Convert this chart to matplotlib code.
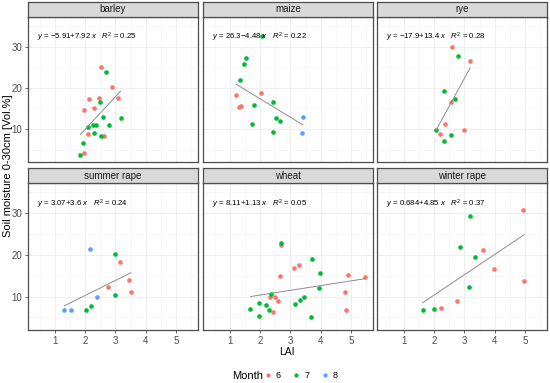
import matplotlib
matplotlib.use("Agg")
import matplotlib.pyplot as plt
from matplotlib.lines import Line2D
import numpy as np

plt.rcParams['font.family'] = ['Liberation Sans', 'DejaVu Sans']
plt.rcParams['mathtext.fontset'] = 'custom'
plt.rcParams['mathtext.rm'] = 'Liberation Sans'
plt.rcParams['mathtext.it'] = 'Liberation Sans:italic'

# 作物 / 月份 / 颜色
crops = ["barley", "maize", "rye", "summer rape", "wheat", "winter rape"]
months = [6, 7, 8]
month_colors = {6: "#F8766D", 7: "#00BA38", 8: "#619CFF"}

# 每个作物: LAI, 土壤水分, 月份
barley_lai = [2.51, 2.89, 2.13, 2.47, 3.08, 2.30, 1.97, 2.08, 2.61, 1.97,
              2.69, 2.49, 2.58, 3.17, 2.78, 2.25, 2.37, 2.08, 2.30, 2.51, 1.93, 1.84]
barley_sm = [25.0, 20.1, 17.4, 17.6, 17.6, 15.0, 14.6, 8.8, 8.3, 4.1,
             23.9, 16.5, 13.0, 12.7, 11.1, 11.1, 11.0, 10.4, 9.0, 8.3, 6.7, 3.6]
barley_month = [6] * 10 + [7] * 12

maize_lai = [2.04, 1.21, 1.35, 1.29,
             2.07, 1.54, 1.47, 1.32, 2.41, 1.78, 2.51, 2.67, 1.74, 2.41,
             3.41, 3.39]
maize_sm = [18.7, 18.2, 15.5, 15.3,
            32.6, 27.3, 25.8, 21.9, 16.5, 15.8, 12.7, 11.9, 11.3, 9.4,
            13.0, 9.1]
maize_month = [6] * 4 + [7] * 10 + [8] * 2

rye_lai = [2.60, 3.19, 2.54, 2.35, 3.00, 2.19,
           2.78, 2.34, 2.70, 2.05, 2.54, 2.31]
rye_sm = [29.9, 26.5, 16.5, 11.3, 9.8, 8.7,
          27.7, 19.2, 17.3, 9.8, 8.6, 7.0]
rye_month = [6] * 6 + [7] * 6

srape_lai = [3.15, 3.45, 2.76, 3.51,
             3.00, 2.99, 2.19, 2.04,
             2.16, 2.40, 1.31, 1.53]
srape_sm = [18.2, 14.0, 12.4, 11.0,
            20.2, 10.5, 7.7, 6.9,
            21.3, 9.8, 6.9, 6.7]
srape_month = [6] * 4 + [7] * 4 + [8] * 4

wheat_lai = [2.69, 3.27, 3.12, 2.66, 4.92, 5.47, 4.81, 2.32, 2.48, 2.58, 4.85, 2.43,
             2.69, 3.71, 3.98, 3.93, 2.36, 3.45, 3.32, 3.14, 1.97, 2.18, 1.68, 2.28, 1.97, 3.69]
wheat_sm = [22.3, 17.5, 16.9, 14.9, 15.1, 14.6, 11.1, 10.0, 10.0, 9.0, 6.7, 6.4,
            22.8, 18.9, 15.6, 12.0, 10.6, 9.8, 9.3, 8.2, 8.5, 8.0, 7.0, 6.9, 5.3, 5.0]
wheat_month = [6] * 12 + [7] * 14

wrape_lai = [4.93, 3.61, 3.99, 4.97, 2.77, 2.21,
             3.18, 2.87, 3.36, 3.14, 1.98, 1.62]
wrape_sm = [30.7, 21.1, 16.6, 13.7, 9.0, 7.3,
            29.4, 21.8, 19.6, 12.3, 7.0, 6.9]
wrape_month = [6] * 6 + [7] * 6

# 回归系数 (来自图中的方程)
intercepts = [-5.91, 26.3, -17.9, 3.07, 8.11, 0.684]
slopes = [7.92, -4.48, 13.4, 3.6, 1.13, 4.85]
r2_values = [0.25, 0.22, 0.28, 0.24, 0.05, 0.37]

crop_data = [(barley_lai, barley_sm, barley_month),
             (maize_lai, maize_sm, maize_month),
             (rye_lai, rye_sm, rye_month),
             (srape_lai, srape_sm, srape_month),
             (wheat_lai, wheat_sm, wheat_month),
             (wrape_lai, wrape_sm, wrape_month)]

W, H = 550, 383
fig = plt.figure(figsize=(W / 100, H / 100), dpi=100)

col_px = [(28, 198), (203, 373), (377, 547)]
row_px = [(17, 162), (183, 330)]
strip_h = 15

for i, crop in enumerate(crops):
    r, c = divmod(i, 3)
    x0, x1 = col_px[c]
    y0, y1 = row_px[r]
    ax = fig.add_axes([x0 / W, 1 - y1 / H, (x1 - x0) / W, (y1 - y0) / H])
    ax.set_xlim(0.11, 5.73)
    ax.set_ylim(2.0, 37.2)
    ax.set_xticks([1, 2, 3, 4, 5])
    ax.set_xticks(np.arange(0.5, 5.8, 1.0), minor=True)
    ax.set_yticks([10, 20, 30])
    ax.set_yticks([5, 15, 25, 35], minor=True)
    ax.grid(True, which='major', color='#EBEBEB', lw=0.6)
    ax.grid(True, which='minor', color='#F2F2F2', lw=0.4)
    ax.set_axisbelow(True)
    for sp in ax.spines.values():
        sp.set_color('#4D4D4D')
        sp.set_linewidth(0.9)
    ax.tick_params(which='minor', length=0)
    ax.tick_params(which='major', length=2.5, width=0.6, color='#4D4D4D',
                   labelsize=7, labelcolor='#4D4D4D', pad=1.5)
    if c != 0:
        ax.tick_params(axis='y', length=0, labelleft=False)
    if r != 1:
        ax.tick_params(axis='x', length=0, labelbottom=False)

    lai, sm, mon = crop_data[i]
    lai = np.array(lai)
    sm = np.array(sm)
    mon = np.array(mon)
    for m in months:
        sel = mon == m
        if sel.any():
            ax.scatter(lai[sel], sm[sel], s=11, color=month_colors[m],
                       linewidths=0, zorder=3)

    xs = np.array([lai.min(), lai.max()])
    ax.plot(xs, intercepts[i] + slopes[i] * xs, color='#8C8C8C', lw=0.7, zorder=4)

    b = slopes[i]
    sign = "+" if b >= 0 else "\u2212"
    a_txt = f"{intercepts[i]:g}".replace("-", "\u2212")
    label = rf"$y$ = {a_txt}{sign}{abs(b):g} $x$   $R^2$ = {r2_values[i]:.2f}"
    ax.text(0.4, 32.2, label, fontsize=5.6, va='center', ha='left', color='black')

    # 分面标题条
    sax = fig.add_axes([x0 / W, 1 - y0 / H, (x1 - x0) / W, strip_h / H])
    sax.set_facecolor('#D9D9D9')
    sax.set_xticks([])
    sax.set_yticks([])
    for sp in sax.spines.values():
        sp.set_color('#4D4D4D')
        sp.set_linewidth(0.9)
    sax.text(0.5, 0.5, crop, fontsize=7, color='#1A1A1A', ha='center', va='center',
             transform=sax.transAxes)

fig.text(287 / W, 1 - 352 / H, "LAI", fontsize=7.5, ha='center', va='center')
fig.text(8 / W, 1 - 166 / H, "Soil moisture 0-30cm [Vol.%]", fontsize=8,
         rotation=90, ha='center', va='center')

fig.text(232 / W, 1 - 376 / H, "Month", fontsize=8, ha='left', va='center')
handles = [Line2D([], [], marker='o', ls='', color=month_colors[m], markersize=3,
                  markeredgewidth=0) for m in months]
fig.legend(handles, [str(m) for m in months], loc='center left',
           bbox_to_anchor=(263 / W, 1 - 376 / H), ncol=3, frameon=False,
           fontsize=6.5, handlelength=1.0, handletextpad=0.4, columnspacing=1.2,
           borderpad=0, borderaxespad=0)

plt.savefig("out.png", dpi=100)
